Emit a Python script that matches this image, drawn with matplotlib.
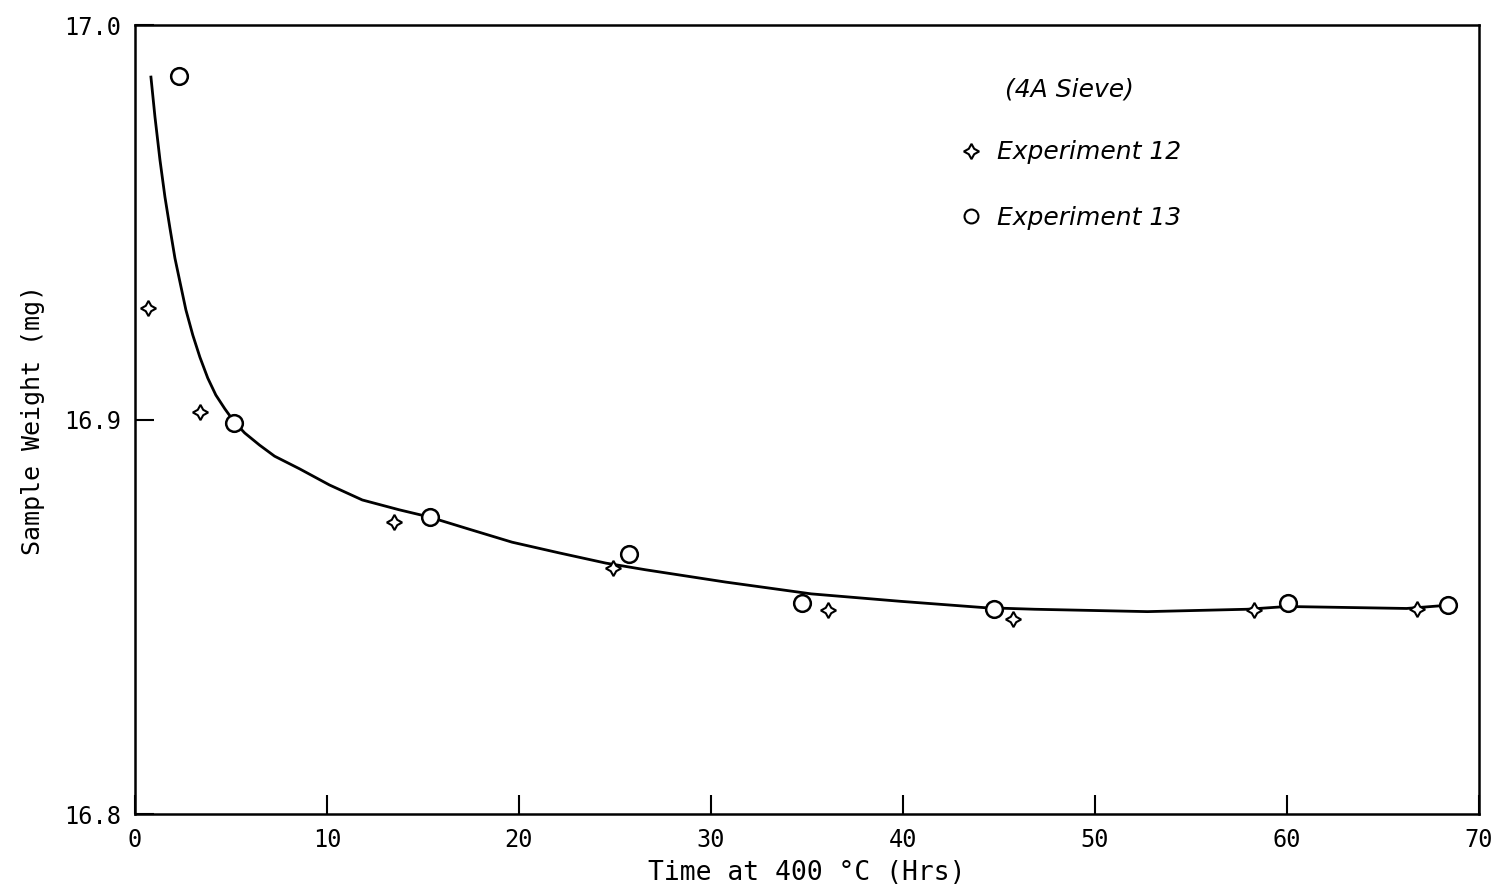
import numpy as np
import matplotlib
matplotlib.use('Agg')
import matplotlib.pyplot as plt
from matplotlib.lines import Line2D

# Smoothed curve drawn through the data
curve_t = [0.83, 1.04, 1.30, 1.56, 1.82, 2.08, 2.34, 2.65, 3.01, 3.38, 3.79, 4.21,
           4.68, 5.14, 5.71, 6.49, 7.27, 8.57, 10.13, 11.84, 13.77, 15.32, 17.40,
           19.64, 22.08, 24.52, 26.6, 30.75, 35.22, 39.90, 44.26, 46.86, 52.73,
           57.92, 60.0, 66.23, 68.31]
curve_w = [16.9868, 16.9767, 16.9658, 16.9564, 16.9485, 16.9409, 16.9349, 16.9278,
           16.9214, 16.9158, 16.9105, 16.9062, 16.9027, 16.8996, 16.8966, 16.8935,
           16.8907, 16.8875, 16.8834, 16.8796, 16.8771, 16.8753, 16.8722, 16.8689,
           16.8662, 16.8636, 16.8619, 16.8588, 16.8558, 16.8539, 16.8523, 16.8519,
           16.8513, 16.8519, 16.8526, 16.8521, 16.8529]

# Experiment 12 (four-point stars)
exp12_t = [0.69, 3.41, 13.47, 24.88, 36.1, 45.71, 58.3, 66.79]
exp12_w = [16.9282, 16.9020, 16.8741, 16.8623, 16.8517, 16.8494, 16.8517, 16.8519]

# Experiment 13 (open circles)
exp13_t = [2.29, 5.16, 15.36, 25.71, 34.75, 44.76, 60.04, 68.36]
exp13_w = [16.9871, 16.8990, 16.8754, 16.8659, 16.8536, 16.8520, 16.8534, 16.8530]

x_ticks = [0, 10, 20, 30, 40, 50, 60, 70]
y_ticks = [16.8, 16.9, 17.0]

mono = 'DejaVu Sans Mono'

fig = plt.figure(figsize=(14.91, 8.96), dpi=100)
ax = fig.add_axes([135 / 1491, 1 - 814 / 896, (1479 - 135) / 1491, (814 - 25) / 896])

ax.plot(curve_t, curve_w, color='black', linewidth=2.0, zorder=2)
ax.plot(exp12_t, exp12_w, linestyle='none', marker=(4, 1, 0), markersize=11,
        markerfacecolor='white', markeredgecolor='black', markeredgewidth=1.5, zorder=3)
ax.plot(exp13_t, exp13_w, linestyle='none', marker='o', markersize=12,
        markerfacecolor='white', markeredgecolor='black', markeredgewidth=1.8, zorder=3)

ax.set_xlim(0, 70)
ax.set_ylim(16.8, 17.0)
ax.set_xticks(x_ticks)
ax.set_yticks(y_ticks)
ax.set_yticklabels([f'{v:.1f}' for v in y_ticks])
ax.tick_params(axis='both', direction='in', length=14, width=1.5,
               labelsize=17, pad=10)
for lab in ax.get_xticklabels() + ax.get_yticklabels():
    lab.set_family(mono)
for s in ax.spines.values():
    s.set_linewidth(1.8)

ax.set_xlabel('Time at 400 °C (Hrs)', fontsize=19, family=mono, labelpad=6)
ax.set_ylabel('Sample Weight (mg)', fontsize=18, family=mono, labelpad=14)

# Key
handles = [
    Line2D([], [], linestyle='none', marker=(4, 1, 0), markersize=11,
           markerfacecolor='white', markeredgecolor='black', markeredgewidth=1.5),
    Line2D([], [], linestyle='none', marker='o', markersize=10,
           markerfacecolor='white', markeredgecolor='black', markeredgewidth=1.5),
]
leg = ax.legend(handles, ['Experiment 12', 'Experiment 13'], title='(4A Sieve)',
                loc='upper left', bbox_to_anchor=(0.595, 0.962), frameon=False,
                prop={'style': 'italic', 'size': 18}, handletextpad=0.5,
                labelspacing=1.65, handlelength=1.1,
                title_fontproperties={'style': 'italic', 'size': 18})
leg._legend_box.align = 'center'
leg._legend_box.sep = 28

fig.savefig('out.png', dpi=100)
